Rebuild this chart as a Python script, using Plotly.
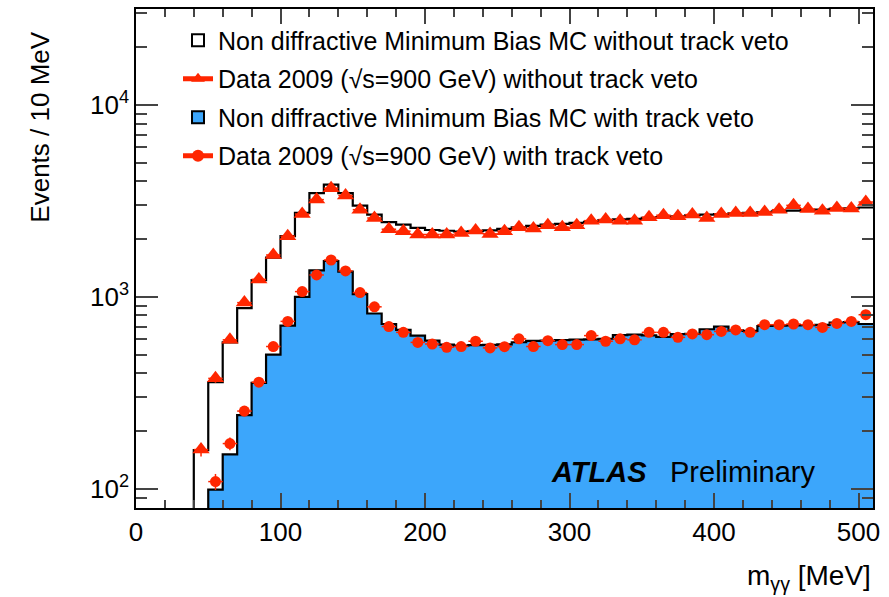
import numpy as np
import plotly.graph_objects as go

# bin lower edges (10 MeV bins, 0-510 MeV)
bin_lo = list(range(0, 510, 10))
bin_width = 10

# MC without track veto (open histogram)
mc_noveto = [0, 0, 0, 0, 159, 359, 579, 874, 1222, 1600,
             2070, 2735, 3470, 3840, 3470, 2985, 2680, 2450, 2380, 2290,
             2230, 2210, 2190, 2200, 2220, 2260, 2300, 2340, 2380, 2400,
             2430, 2460, 2510, 2530, 2550, 2580, 2600, 2630, 2660, 2680,
             2700, 2720, 2740, 2760, 2790, 2810, 2830, 2850, 2870, 2890,
             2920]

# Data without track veto (triangles)
data_noveto = [0, 0, 0, 0, 160, 376, 597, 933, 1233, 1652,
               2070, 2700, 3210, 3680, 3373, 2845, 2575, 2250, 2198, 2113,
               2113, 2113, 2154, 2216, 2128, 2198, 2306, 2270, 2361, 2306,
               2361, 2495, 2528, 2495, 2495, 2600, 2663, 2630, 2682, 2577,
               2705, 2735, 2735, 2766, 2845, 2997, 2868, 2813, 2904, 2883,
               3119]

# MC with track veto (filled histogram)
mc_veto = [0, 0, 0, 0, 0, 99, 151, 242, 356, 500,
           708, 1000, 1374, 1537, 1352, 1033, 819, 722, 672, 628,
           591, 564, 557, 560, 562, 566, 580, 590, 592, 595,
           598, 600, 605, 632, 635, 630, 618, 640, 642, 678,
           700, 668, 665, 705, 708, 710, 712, 715, 735, 738,
           722]

# Data with track veto (circles)
data_veto = [0, 0, 0, 0, 0, 109, 172, 254, 359, 551,
             745, 1065, 1300, 1556, 1365, 1052, 887, 700, 653, 579,
             568, 546, 551, 587, 542, 550, 604, 551, 591, 564,
             564, 628, 587, 604, 597, 653, 653, 615, 641, 635,
             660, 672, 653, 716, 716, 722, 716, 693, 727, 745,
             807]

x_ticks = [0, 100, 200, 300, 400, 500]
y_ticks = [100, 1000, 10000]
y_ticktext = ["10<sup>2</sup>", "10<sup>3</sup>", "10<sup>4</sup>"]
y_minor = [80, 90, 200, 300, 400, 500, 600, 700, 800, 900,
           2000, 3000, 4000, 5000, 6000, 7000, 8000, 9000, 20000, 30000]

RED = "#ff2600"
BLUE = "#3ca6fb"
FLOOR = 1e-2  # empty bins drawn below the visible range


def step_xy(vals):
    xs = bin_lo + [bin_lo[-1] + bin_width]
    ys = [v if v > 0 else FLOOR for v in vals] + [vals[-1]]
    return xs, ys


def points(vals):
    xs, ys, es = [], [], []
    for lo, v in zip(bin_lo, vals):
        if v > 0:
            xs.append(lo + bin_width / 2)
            ys.append(v)
            es.append(float(np.sqrt(v)))
    return xs, ys, es


fig = go.Figure()

# histograms
sx, sy = step_xy(mc_noveto)
fig.add_trace(go.Scatter(x=sx, y=sy, mode="lines", line=dict(color="black", width=2.2, shape="hv"),
                         showlegend=False, hoverinfo="skip"))
sx, sy = step_xy(mc_veto)
fig.add_trace(go.Scatter(x=sx, y=sy, mode="lines", line=dict(color="black", width=2.2, shape="hv"),
                         fill="tozeroy", fillcolor=BLUE, showlegend=False, hoverinfo="skip"))

# data
px, py, pe = points(data_noveto)
fig.add_trace(go.Scatter(x=px, y=py, mode="markers",
                         marker=dict(symbol="triangle-up", size=15, color=RED),
                         error_x=dict(type="constant", value=5, color=RED, thickness=1.5, width=0),
                         error_y=dict(type="data", array=pe, color=RED, thickness=1.5, width=0),
                         showlegend=False))
px, py, pe = points(data_veto)
fig.add_trace(go.Scatter(x=px, y=py, mode="markers",
                         marker=dict(symbol="circle", size=11, color=RED),
                         error_x=dict(type="constant", value=5, color=RED, thickness=1.5, width=0),
                         error_y=dict(type="data", array=pe, color=RED, thickness=1.5, width=0),
                         showlegend=False))

# legend entries
fig.add_trace(go.Bar(x=[None], y=[None], name="Non diffractive Minimum Bias MC without track veto",
                     marker=dict(color="white", line=dict(color="black", width=1.5)),
                     legendgroup="a"))
fig.add_trace(go.Scatter(x=[None], y=[None], mode="lines+markers",
                         name="Data 2009 (\u221As=900 GeV) without track veto",
                         line=dict(color=RED, width=2),
                         marker=dict(symbol="triangle-up", size=13, color=RED), legendgroup="b"))
fig.add_trace(go.Bar(x=[None], y=[None], name="Non diffractive Minimum Bias MC with track veto",
                     marker=dict(color=BLUE, line=dict(color="black", width=1.5)),
                     legendgroup="c"))
fig.add_trace(go.Scatter(x=[None], y=[None], mode="lines+markers",
                         name="Data 2009 (\u221As=900 GeV) with track veto",
                         line=dict(color=RED, width=2),
                         marker=dict(symbol="circle", size=10, color=RED), legendgroup="d"))

FONT = "Liberation Sans, Arial, Helvetica, sans-serif"

fig.update_layout(
    width=889, height=597,
    margin=dict(l=136, r=16, t=7, b=89),
    paper_bgcolor="white", plot_bgcolor="white",
    font=dict(family=FONT, color="black"),
    showlegend=True,
    legend=dict(x=0.057, y=0.983, xanchor="left", yanchor="top",
                bgcolor="rgba(0,0,0,0)", font=dict(size=25, family=FONT),
                traceorder="grouped", tracegroupgap=3, itemsizing="constant"),
    xaxis=dict(range=[0, 510], tickvals=x_ticks, ticks="inside", ticklen=15, tickwidth=1.5,
               showline=True, linecolor="black", linewidth=1.5, mirror="allticks",
               showgrid=False, zeroline=False, tickfont=dict(size=26),
               minor=dict(ticks="inside", ticklen=8, tickwidth=1.5, dtick=20, showgrid=False)),
    yaxis=dict(type="log", range=[np.log10(79.4), np.log10(31600)], tickvals=y_ticks,
               ticktext=y_ticktext, ticks="inside", ticklen=22, tickwidth=1.5,
               showline=True, linecolor="black", linewidth=1.5, mirror="allticks",
               showgrid=False, zeroline=False, tickfont=dict(size=26),
               minor=dict(ticks="inside", ticklen=11, tickwidth=1.5, tickvals=y_minor, showgrid=False)),
    annotations=[
        dict(text="Events / 10 MeV", xref="paper", yref="paper", x=-0.13, y=0.958,
             xanchor="center", yanchor="top", textangle=-90, showarrow=False,
             font=dict(size=26)),
        dict(text="m<sub>\u03b3\u03b3</sub> [MeV]", xref="paper", yref="paper", x=1.0, y=-0.14,
             xanchor="right", yanchor="middle", showarrow=False, font=dict(size=28)),
        dict(text="<b><i>ATLAS</i></b>", xref="paper", yref="paper", x=0.56, y=0.072,
             xanchor="left", yanchor="middle", showarrow=False, font=dict(size=29)),
        dict(text="Preliminary", xref="paper", yref="paper", x=0.722, y=0.072,
             xanchor="left", yanchor="middle", showarrow=False, font=dict(size=29)),
    ],
)

fig.write_html("out.html", config={"displayModeBar": False},
               post_script="document.body.style.margin='0';")
